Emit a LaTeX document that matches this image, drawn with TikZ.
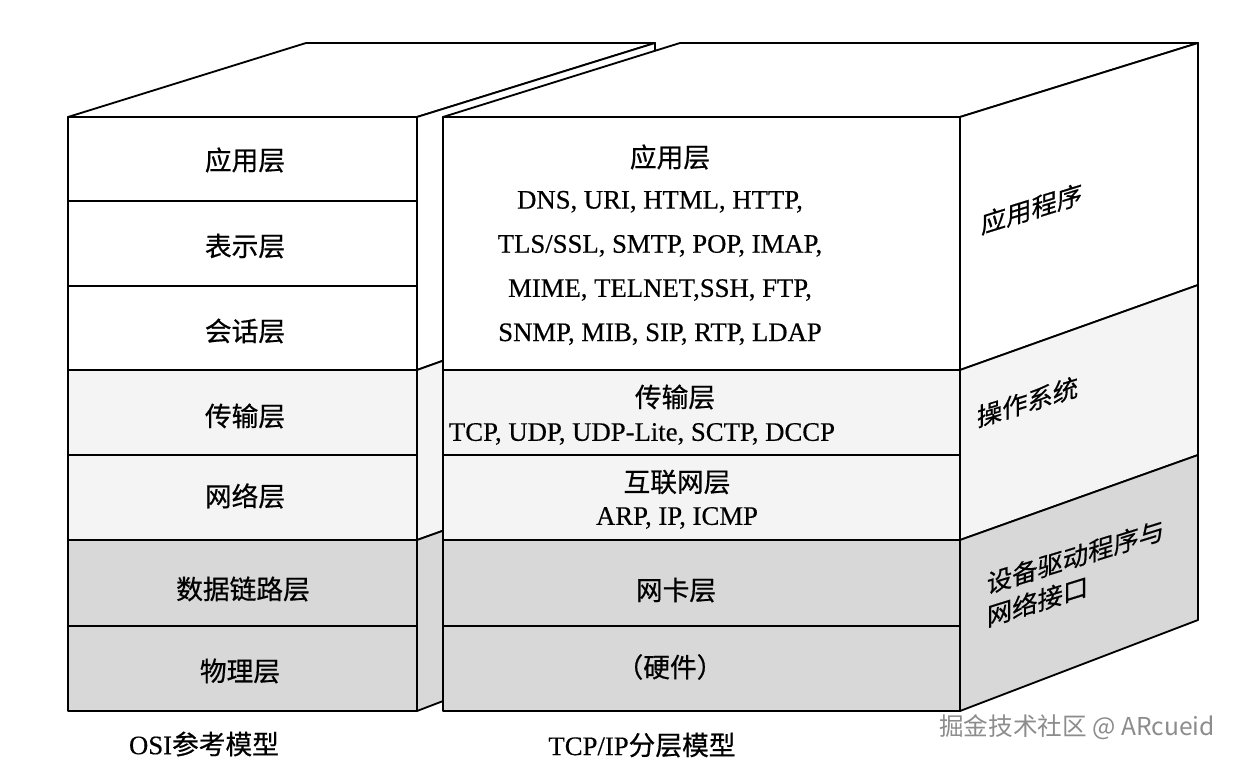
\documentclass[tikz,border=0pt]{standalone}
\usepackage{fontspec}
\setmainfont{Liberation Serif}[FakeBold=0.4]
\newfontfamily\cjk{Noto Sans CJK SC}[FakeBold=0.6]
\newfontfamily\markfont{Noto Sans CJK SC}
\definecolor{pale}{HTML}{F4F4F4}
\definecolor{hwgray}{HTML}{D8D8D8}

\begin{document}
\begin{tikzpicture}[x=0.025cm, y=-0.025cm,
    edge/.style={draw, line width=1.3pt, line join=round},
    zh/.style={font=\cjk\fontsize{19}{22}\selectfont},
    en/.style={font=\fontsize{19}{22}\selectfont},
    side/.style={font=\cjk\fontsize{18}{23.4}\selectfont, yslant=0.31, anchor=west, align=left}]
    \useasboundingbox (0,0) rectangle (1242,762);
    % OSI box, top and side
    \draw[edge, fill=white] (68,117) -- (306,43) -- (655,43) -- (417,117) -- cycle;
    \draw[edge, fill=white] (417,117) -- (655,43) -- (655,285) -- (417,370) -- cycle;
    \draw[edge, fill=pale] (417,370) -- (655,285) -- (655,455) -- (417,540) -- cycle;
    \draw[edge, fill=hwgray] (417,540) -- (655,455) -- (655,620) -- (417,711) -- cycle;
    % OSI front
    \draw[edge, fill=white] (68,117) rectangle (417,370);
    \draw[edge, fill=pale] (68,370) rectangle (417,540);
    \draw[edge, fill=hwgray] (68,540) rectangle (417,711);
    \draw[edge] (68,201) -- (417,201) (68,286) -- (417,286) (68,455) -- (417,455) (68,626) -- (417,626);

    % TCP/IP box, top and side
    \draw[edge, fill=white] (443,117) -- (680,43) -- (1198,43) -- (960,117) -- cycle;
    \draw[edge, fill=white] (960,117) -- (1198,43) -- (1198,285) -- (960,370) -- cycle;
    \draw[edge, fill=pale] (960,370) -- (1198,285) -- (1198,455) -- (960,540) -- cycle;
    \draw[edge, fill=hwgray] (960,540) -- (1198,455) -- (1198,620) -- (960,711) -- cycle;
    % TCP/IP front
    \draw[edge, fill=white] (443,117) rectangle (960,370);
    \draw[edge, fill=pale] (443,370) rectangle (960,540);
    \draw[edge, fill=hwgray] (443,540) rectangle (960,711);
    \draw[edge] (443,455) -- (960,455) (443,626) -- (960,626);

    \node[zh] (osiapp) at (245,160) {应用层};
    \node[zh] (osipres) at (245,246) {表示层};
    \node[zh] (osisess) at (245,331) {会话层};
    \node[zh] (ositrans) at (245,416) {传输层};
    \node[zh] (osinet) at (245,496) {网络层};
    \node[zh] (osilink) at (243,589) {数据链路层};
    \node[zh] (osiphys) at (240,671) {物理层};

    \node[zh] (tcpapp) at (670,157) {应用层};
    \node[en, align=center, font=\fontsize{19}{31.4}\selectfont] (tcpappproto) at (660,268)
        {DNS, URI, HTML, HTTP,\\TLS/SSL, SMTP, POP, IMAP,\\MIME, TELNET,SSH, FTP,\\SNMP, MIB, SIP, RTP, LDAP};
    \node[zh] (tcptrans) at (675,397) {传输层};
    \node[en] (tcptransproto) at (642,434) {TCP, UDP, UDP-Lite, SCTP, DCCP};
    \node[zh] (tcpinet) at (677,482) {互联网层};
    \node[en] (tcpinetproto) at (677,518) {ARP, IP, ICMP};
    \node[zh] (tcpnic) at (676,590) {网卡层};
    \node[zh] (tcphw) at (670,667) {（硬件）};

    \node[side] (sideapp) at (976,226) {应用程序};
    \node[side] (sideos) at (972,419) {操作系统};
    \node[side] (sidedrv) at (982,602) {设备驱动程序与\\网络接口};

    \node[en] (osicap) at (204,744) {OSI{\cjk 参考模型}};
    \node[en] (tcpcap) at (642,745) {TCP/IP{\cjk 分层模型}};
    \node[font=\markfont\fontsize{17.5}{20}\selectfont, text=black!45] (mark) at (1077,727) {掘金技术社区 @ ARcueid};
\end{tikzpicture}
\end{document}
